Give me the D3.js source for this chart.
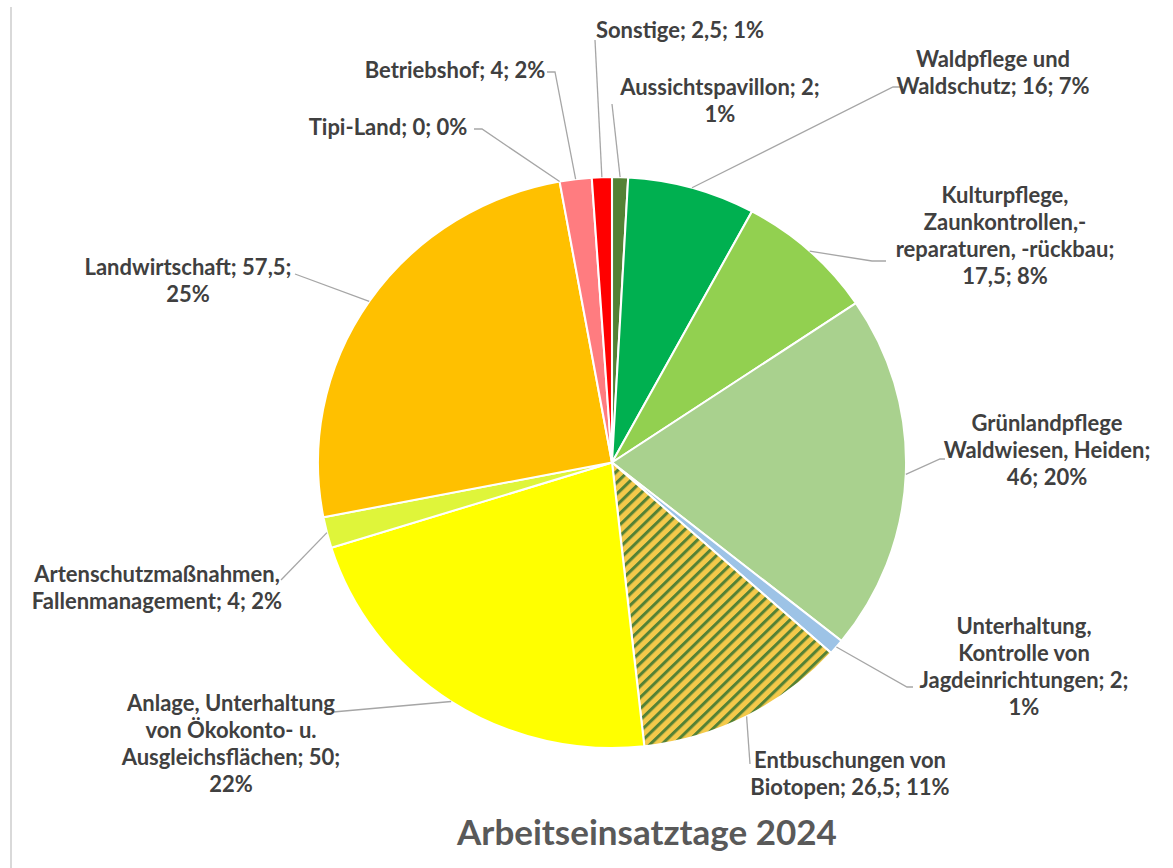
<!DOCTYPE html>
<html>
<head>
<meta charset="utf-8">
<script src="https://cdn.jsdelivr.net/npm/d3@7"></script>
<style>
  body { margin: 0; background: #fff; }
  svg { display: block; }
  .label { font-family: Lato, "Open Sans", sans-serif; font-weight: 700; font-size: 22px; fill: #404040; }
  .title { font-family: Lato, "Open Sans", sans-serif; font-weight: 700; font-size: 35px; fill: #595959; }
  .leader { fill: none; stroke: #a6a6a6; stroke-width: 1.3; }
</style>
</head>
<body>
<script>
//==============================================================================
// DATA
//==============================================================================

// slices, clockwise from 12 o'clock
const categories = [
  'Aussichtspavillon', 'Waldpflege und Waldschutz', 'Kulturpflege, Zaunkontrollen, -reparaturen, -rückbau',
  'Grünlandpflege Waldwiesen, Heiden', 'Unterhaltung, Kontrolle von Jagdeinrichtungen', 'Entbuschungen von Biotopen',
  'Anlage, Unterhaltung von Ökokonto- u. Ausgleichsflächen', 'Artenschutzmaßnahmen, Fallenmanagement',
  'Landwirtschaft', 'Tipi-Land', 'Betriebshof', 'Sonstige'
];
const days = [2, 16, 17.5, 46, 2, 26.5, 50, 4, 57.5, 0, 4, 2.5];
const pctLabels = ['1%', '7%', '8%', '20%', '1%', '11%', '22%', '2%', '25%', '0%', '2%', '1%'];
const colors = ['#548235', '#00b050', '#92d050', '#a9d18e', '#9dc3e6', 'url(#hatch)',
  '#ffff00', '#dff53a', '#ffc000', '#cccccc', '#ff7c80', '#ff0000'];

// label text lines ({v} = value, {p} = percent)
const labelLines = [
  ['Aussichtspavillon; {v};', '{p}'],
  ['Waldpflege und', 'Waldschutz; {v}; {p}'],
  ['Kulturpflege,', 'Zaunkontrollen,-', 'reparaturen, -rückbau;', '{v}; {p}'],
  ['Grünlandpflege', 'Waldwiesen, Heiden;', '{v}; {p}'],
  ['Unterhaltung,', 'Kontrolle von', 'Jagdeinrichtungen; {v};', '{p}'],
  ['Entbuschungen von', 'Biotopen; {v}; {p}'],
  ['Anlage, Unterhaltung', 'von Ökokonto- u.', 'Ausgleichsflächen; {v};', '{p}'],
  ['Artenschutzmaßnahmen,', 'Fallenmanagement; {v}; {p}'],
  ['Landwirtschaft; {v};', '{p}'],
  ['Tipi-Land; {v}; {p}'],
  ['Betriebshof; {v}; {p}'],
  ['Sonstige; {v}; {p}']
];

const title = 'Arbeitseinsatztage 2024';

//==============================================================================
// LAYOUT
//==============================================================================

const W = 1173, H = 868;
const cx = 612, cy = 462.5, r = 285.5, sx = 1.03;
const lineH = 27;

// label anchor (centre x, first baseline) and leader points on the label side
const labelPos = [
  { x: 720, y: 95, lead: [[612, 104]] },
  { x: 993, y: 67, lead: [[903, 87], [893, 87]] },
  { x: 1005, y: 203, lead: [[886, 261], [872, 261]] },
  { x: 1047, y: 431, lead: [[945, 459], [940, 459]] },
  { x: 1024, y: 634, lead: [[913, 687], [907, 687]] },
  { x: 850, y: 768, lead: [[750, 764]] },
  { x: 231, y: 711, lead: [[333, 712]] },
  { x: 157, y: 582, lead: [[281, 580]] },
  { x: 188, y: 275, lead: [[295, 274]] },
  { x: 388, y: 135, lead: [[474, 129], [482, 129]] },
  { x: 455, y: 78, lead: [[547, 72], [555, 72]] },
  { x: 680, y: 38, lead: [[595, 40]] }
];

const locale = d3.formatLocale({ decimal: ',', thousands: '.', grouping: [3], currency: ['', '€'] });
const fmt = v => locale.format(',')(v);

//==============================================================================
// DRAW
//==============================================================================

const svg = d3.select('body').append('svg')
  .attr('width', W)
  .attr('height', H);

// hatch pattern for Entbuschungen
const defs = svg.append('defs');
const pat = defs.append('pattern')
  .attr('id', 'hatch')
  .attr('patternUnits', 'userSpaceOnUse')
  .attr('width', 8)
  .attr('height', 8)
  .attr('patternTransform', 'rotate(45)');
pat.append('rect').attr('width', 8).attr('height', 8).attr('fill', '#f4c94a');
pat.append('rect').attr('width', 3).attr('height', 8).attr('fill', '#548235');

// left frame edge
svg.append('line')
  .attr('x1', 11).attr('y1', 7)
  .attr('x2', 11).attr('y2', H)
  .attr('stroke', '#d9d9d9')
  .attr('stroke-width', 2);

const data = categories.map((c, i) => ({ name: c, value: days[i], i: i }));

const pie = d3.pie().sort(null).value(d => d.value);
const arcs = pie(data);
const arc = d3.arc().innerRadius(0).outerRadius(r);

// slices
svg.append('g')
  .attr('transform', `translate(${cx},${cy}) scale(${sx},1)`)
  .selectAll('path')
  .data(arcs.filter(d => d.data.value > 0))
  .enter()
  .append('path')
  .attr('d', arc)
  .attr('fill', d => colors[d.data.i])
  .attr('stroke', '#fff')
  .attr('stroke-width', 2);

// leader lines
const edge = d => {
  const a = (d.startAngle + d.endAngle) / 2;
  return [cx + sx * r * Math.sin(a), cy - r * Math.cos(a)];
};

svg.append('g')
  .selectAll('path')
  .data(arcs)
  .enter()
  .append('path')
  .attr('class', 'leader')
  .attr('d', d => d3.line()(labelPos[d.data.i].lead.concat([edge(d)])));

// labels
const labels = svg.append('g')
  .selectAll('text')
  .data(arcs)
  .enter()
  .append('text')
  .attr('class', 'label')
  .attr('text-anchor', 'middle')
  .attr('x', d => labelPos[d.data.i].x)
  .attr('y', d => labelPos[d.data.i].y);

labels.each(function (d) {
  const pos = labelPos[d.data.i];
  d3.select(this).selectAll('tspan')
    .data(labelLines[d.data.i])
    .enter()
    .append('tspan')
    .attr('x', pos.x)
    .attr('y', (l, j) => pos.y + j * lineH)
    .text(l => l.replace('{v}', fmt(d.data.value)).replace('{p}', pctLabels[d.data.i]));
});

// title
svg.append('text')
  .attr('class', 'title')
  .attr('x', 647)
  .attr('y', 845)
  .attr('text-anchor', 'middle')
  .text(title);
</script>
</body>
</html>
